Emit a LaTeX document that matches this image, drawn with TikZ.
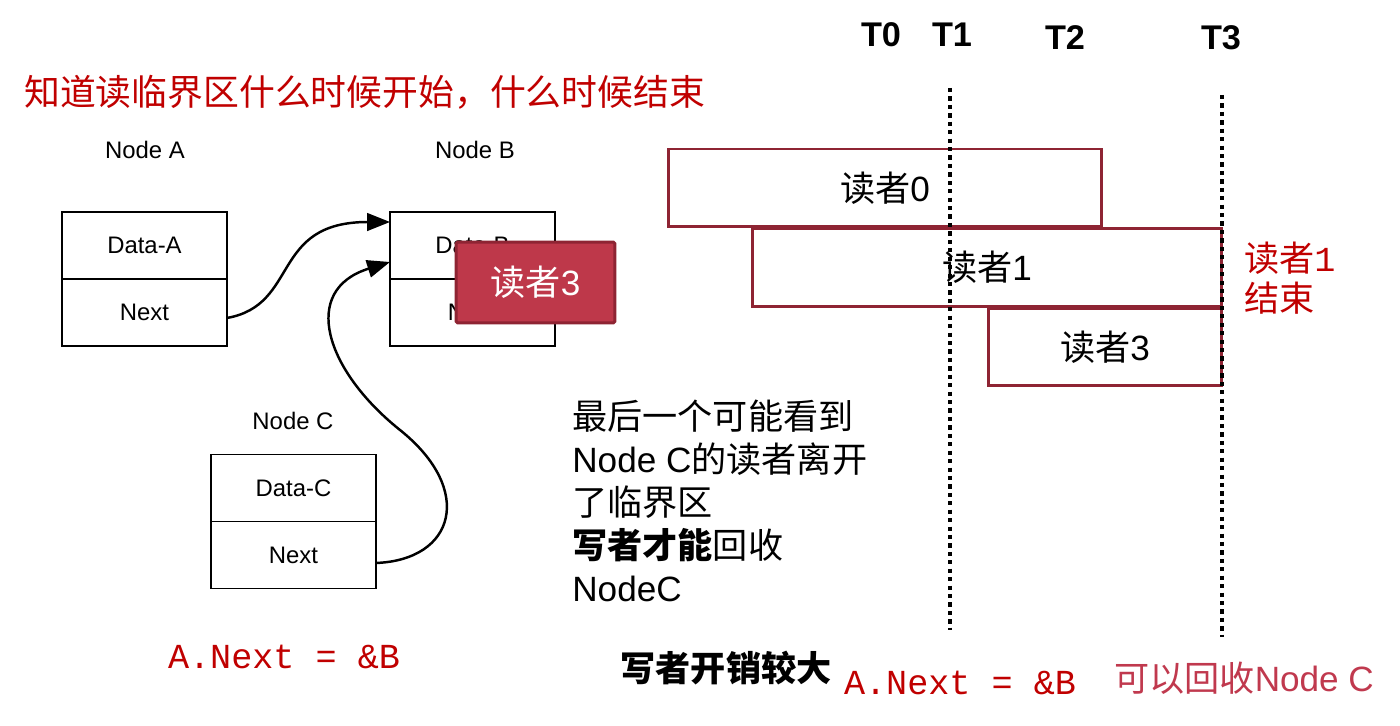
\documentclass[tikz,border=0pt]{standalone}
\usepackage{fontspec}
\setmainfont{Liberation Sans}
\setmonofont{Liberation Mono}
\newfontfamily\cjk{Noto Sans CJK SC}
\usetikzlibrary{positioning,arrows.meta,calc}

\definecolor{titlered}{RGB}{192,0,0}
\definecolor{readerred}{RGB}{142,36,51}
\definecolor{boxred}{RGB}{190,56,74}
\definecolor{notered}{RGB}{192,57,78}

\newcommand\readerlabel[1]{{\cjk 读者}#1}

\tikzset{
    cell/.style={draw=black, line width=1.1pt, minimum width=3.3cm, minimum height=1.34cm,
        outer sep=0pt, inner sep=0pt, font=\fontsize{13.6}{16}\selectfont},
    listname/.style={font=\fontsize{13.6}{16}\selectfont},
    hotbox/.style={draw=readerred, fill=boxred, line width=1.7pt, rounded corners=1pt,
        minimum width=3.18cm, minimum height=1.62cm, text=white, font=\fontsize{20}{24}\selectfont},
    readerbox/.style={draw=readerred, line width=1.7pt, inner sep=0pt, minimum height=1.56cm,
        font=\fontsize{20}{24}\selectfont},
    ptr/.style={-{Triangle[length=13pt,width=10pt]}, line width=1.4pt},
    timeline/.style={line width=2.8pt, dash pattern=on 2.4pt off 2.4pt},
    tick/.style={font=\bfseries\fontsize{19.5}{22}\selectfont},
    code/.style={font=\ttfamily\fontsize{20}{24}\selectfont, text=titlered},
}

\begin{document}
\begin{tikzpicture}[x=0.02cm, y=-0.02cm]
    \useasboundingbox (0,0) rectangle (1400,726);
    %Title%
    \node[anchor=west, text=titlered, font=\cjk\fontsize{20.4}{24}\selectfont] (title) at (18,92) {知道读临界区什么时候开始，什么时候结束};
    %Linked list nodes%
    %===========================================================
    \node[listname] (nameA) at (145,150) {Node A};
    \node[cell] (dataA) at (144.5,245.5) {Data-A};
    \node[cell, below=0pt of dataA] (nextA) {Next};
    \node[listname] (nameB) at (475,150) {Node B};
    \node[cell] (dataB) at (472.5,245.5) {Data-B};
    \node[cell, below=0pt of dataB] (nextB) {Next};
    \node[listname] (nameC) at (293,421) {Node C};
    \node[cell] (dataC) at (293.5,488) {Data-C};
    \node[cell, below=0pt of dataC] (nextC) {Next};
    \node[hotbox] (hot) at (535.5,282.5) {\readerlabel{3}}; %reader 3 sits on Node B
    %Pointers%
    \draw[ptr] ([yshift=-0.11cm]nextA.east) .. controls (300,305) and (270,222) .. ([yshift=0.47cm]dataB.west);
    \draw[ptr] ([yshift=-0.16cm]nextC.east) .. controls (455,560) and (475,490) .. (400,430)
        .. controls (325,370) and (300,290) .. ([yshift=-0.33cm]dataB.west);
    %Reader timeline%
    %===========================================================
    \node[readerbox, minimum width=8.68cm] (r0) at (885,188) {\readerlabel{0}};
    \node[readerbox, minimum width=9.4cm] (r1) at (987,267.5) {\readerlabel{1}};
    \node[readerbox, minimum width=4.68cm] (r3) at (1105,347) {\readerlabel{3}};
    \node[tick] (t0) at (881,35) {T0};
    \node[tick] (t1) at (952,35) {T1};
    \node[tick] (t2) at (1065,38) {T2};
    \node[tick] (t3) at (1221,38) {T3};
    \coordinate (l1top) at (950,88);
    \coordinate (l1bot) at (950,630);
    \coordinate (l3top) at (1222,95);
    \coordinate (l3bot) at (1222,637);
    \draw[timeline] (l1top) -- (l1bot); %T1 line
    \draw[timeline] (l3top) -- (l3bot); %T3 line
    \node[anchor=west, align=left, text=titlered, font=\fontsize{20}{22.7}\selectfont] (done1) at (1238,278) {{\cjk 读者}{\ttfamily 1}\\{\cjk 结束}};
    %Notes%
    %===========================================================
    \node[anchor=north west, align=left, inner sep=0pt, font=\fontsize{20}{24.4}\selectfont] (note) at (572,400)
        {{\cjk 最后一个可能看到}\\Node C{\cjk 的读者离开}\\{\cjk 了临界区}\\{\cjk\bfseries 写者才能}{\cjk 回收}\\NodeC};
    \node[font=\cjk\bfseries\fontsize{20}{24}\selectfont] (cost) at (726,668) {写者开销较大};
    \node[code] (codeA) at (284,657) {A.Next = \&B};
    \node[code] (codeB) at (960,683) {A.Next = \&B};
    \node[anchor=west, text=notered, font=\fontsize{20}{24}\selectfont] (free) at (1108,678) {{\cjk 可以回收}Node C};
\end{tikzpicture}
\end{document}
